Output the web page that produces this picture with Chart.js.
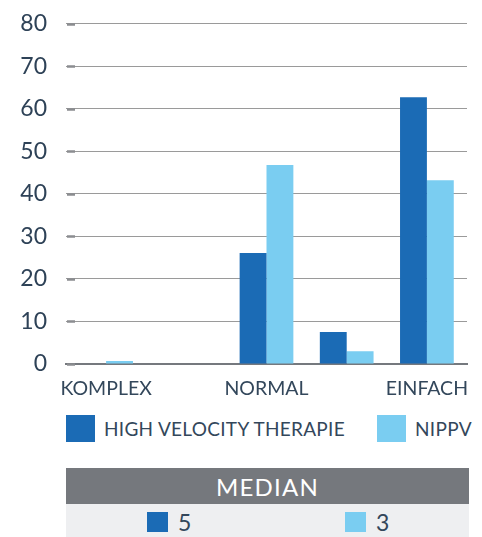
<!DOCTYPE html>
<html>
<head>
<meta charset="utf-8">
<script src="https://cdn.jsdelivr.net/npm/chart.js@4.4.1/dist/chart.umd.min.js"></script>
<style>
    body { margin: 0; background: #fff; font-family: Lato, "Open Sans", sans-serif; color: #33475b; }
    #wrap { position: relative; width: 482px; height: 537px; overflow: hidden; }
    #chartBox { position: absolute; left: 0; top: -9px; width: 482px; height: 409px; }
    .legend-item { position: absolute; top: 415px; height: 27px; display: flex; align-items: center; font-size: 19px; letter-spacing: 0.3px; }
    .legend-item span.box { display: inline-block; width: 29px; height: 27px; margin-right: 9px; }
    #medianHead { position: absolute; left: 66px; top: 468px; width: 403px; height: 36px; background: #75787d;
        color: #fff; font-size: 24px; text-align: center; line-height: 37px; letter-spacing: 1.2px; }
    #medianRow { position: absolute; left: 66px; top: 504px; width: 403px; height: 33px; background: #eeeff1; }
    .med { position: absolute; top: 8px; display: flex; align-items: center; font-size: 23px; height: 20px; }
    .med span.box { display: inline-block; width: 21px; height: 20px; margin-right: 10px; }
</style>
</head>
<body>
<div id="wrap">
    <div id="chartBox"><canvas id="chart"></canvas></div>
    <div id="legend"></div>
    <div id="medianHead">MEDIAN</div>
    <div id="medianRow"></div>
</div>
<script>
// data
var categories = ['KOMPLEX', '', 'NORMAL', '', 'EINFACH'];
var seriesNames = ['HIGH VELOCITY THERAPIE', 'NIPPV'];
var hvtValues = [0, 0, 26.1, 7.5, 62.7];
var nippvValues = [0.7, 0, 46.8, 3.0, 43.2];
var medians = [5, 3];
var yTicks = [0, 10, 20, 30, 40, 50, 60, 70, 80];
var colors = ['#1b6bb5', '#7acdf1'];

// small solid dashes at the start of every grid line
var tickDashes = {
    id: 'tickDashes',
    afterDraw: function(chart) {
        var ctx = chart.ctx;
        var y = chart.scales.y;
        var left = chart.chartArea.left;
        ctx.save();
        ctx.strokeStyle = '#8b8d90';
        ctx.lineWidth = 2.5;
        for (var i = 0; i < y.ticks.length; i++) {
            var py = Math.round(y.getPixelForTick(i)) + 0.5;
            ctx.beginPath();
            ctx.moveTo(left + 1, py);
            ctx.lineTo(left + 9, py);
            ctx.stroke();
        }
        ctx.restore();
    }
};

var ctx = document.getElementById('chart').getContext('2d');
var chart = new Chart(ctx, {
    type: 'bar',
    data: {
        labels: categories,
        datasets: [{
            label: seriesNames[0],
            data: hvtValues,
            backgroundColor: colors[0]
        }, {
            label: seriesNames[1],
            data: nippvValues,
            backgroundColor: colors[1]
        }]
    },
    options: {
        responsive: true,
        maintainAspectRatio: false,
        animation: false,
        categoryPercentage: 0.67,
        barPercentage: 1.0,
        layout: { padding: { top: 11, right: 15, left: 0, bottom: 0 } },
        plugins: {
            legend: { display: false },
            tooltip: { enabled: false }
        },
        scales: {
            x: {
                grid: { display: false },
                border: { color: '#75797e', width: 2 },
                ticks: {
                    color: '#33475b',
                    font: { family: 'Lato', size: 19.5 },
                    padding: 5,
                    maxRotation: 0,
                    autoSkip: false
                },
                afterFit: function(scale) { scale.height = 36; }
            },
            y: {
                min: 0,
                max: 80,
                afterBuildTicks: function(scale) {
                    scale.ticks = yTicks.map(function(v) { return { value: v }; });
                },
                border: { display: false },
                grid: {
                    color: '#9a9a9a',
                    lineWidth: 1,
                    borderDash: [1, 2],
                    drawTicks: false
                },
                ticks: {
                    color: '#2e4257',
                    font: { family: 'Lato', size: 23 },
                    padding: 19
                },
                afterFit: function(scale) { scale.width = 66; }
            }
        }
    },
    plugins: [tickDashes]
});

// legend and median row
var legendPos = [66, 377];
var legendHtml = '';
for (var i = 0; i < seriesNames.length; i++) {
    legendHtml += '<div class="legend-item" style="left:' + legendPos[i] + 'px">' +
        '<span class="box" style="background:' + colors[i] + '"></span>' + seriesNames[i] + '</div>';
}
document.getElementById('legend').innerHTML = legendHtml;

var medPos = [81, 279];
var medHtml = '';
for (var i = 0; i < medians.length; i++) {
    medHtml += '<div class="med" style="left:' + medPos[i] + 'px">' +
        '<span class="box" style="background:' + colors[i] + '"></span>' + medians[i] + '</div>';
}
document.getElementById('medianRow').innerHTML = medHtml;
</script>
</body>
</html>
